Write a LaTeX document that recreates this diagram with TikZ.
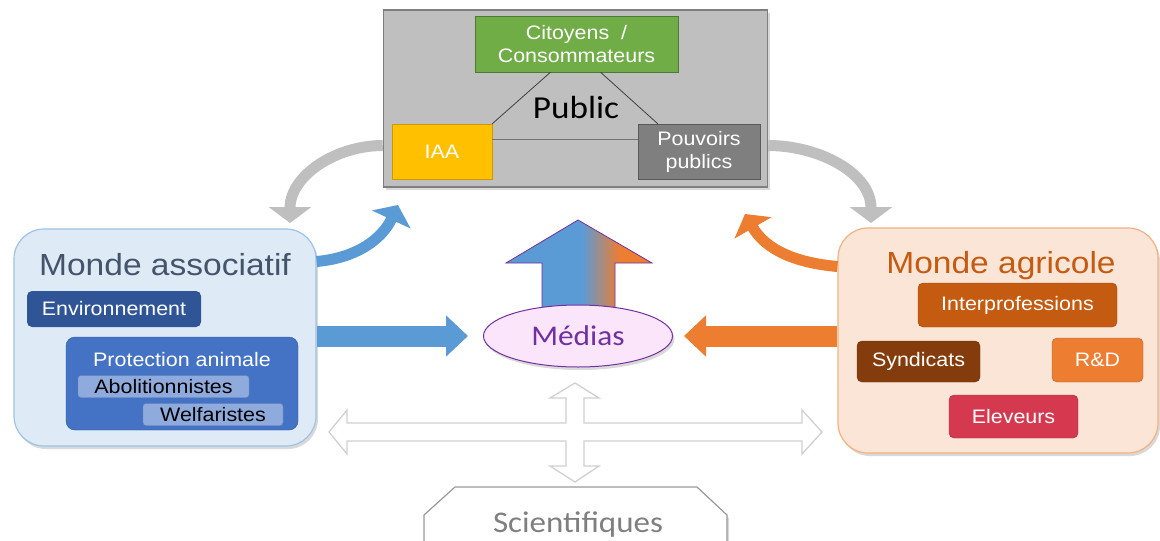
\documentclass[tikz,border=0pt]{standalone}
\usepackage{fontspec}
\setmainfont{Liberation Sans}[FakeStretch=1.1]
\newfontfamily\carlito{Carlito}[FakeStretch=1.1]
\usetikzlibrary{arrows.meta,shapes.geometric,shadows}

\definecolor{bleuA}{RGB}{91,155,213}
\definecolor{orangeA}{RGB}{237,125,49}
\definecolor{grisF}{RGB}{191,191,191}
\definecolor{grisC}{RGB}{127,127,127}
\definecolor{vertC}{RGB}{112,173,71}
\definecolor{jauneC}{RGB}{255,192,0}
\definecolor{assocF}{RGB}{222,235,247}
\definecolor{assocB}{RGB}{157,195,230}
\definecolor{assocT}{RGB}{68,84,106}
\definecolor{bleuE}{RGB}{47,85,151}
\definecolor{bleuP}{RGB}{68,114,196}
\definecolor{bleuL}{RGB}{143,170,220}
\definecolor{agriF}{RGB}{251,229,214}
\definecolor{agriB}{RGB}{244,177,131}
\definecolor{brunI}{RGB}{197,90,17}
\definecolor{brunS}{RGB}{132,60,12}
\definecolor{rougeE}{RGB}{213,57,80}
\definecolor{violetM}{RGB}{112,48,160}
\definecolor{roseM}{RGB}{251,229,251}
\definecolor{croixG}{RGB}{208,208,208}

\pgfdeclarehorizontalshading{bleuorange}{100bp}{color(0bp)=(bleuA); color(51bp)=(bleuA); color(64bp)=(orangeA); color(100bp)=(orangeA)}

\tikzset{
  ombre/.style={drop shadow={opacity=0.3,shadow xshift=2pt,shadow yshift=-3pt}},
  petit/.style={rectangle, rounded corners=5pt, inner sep=0pt, text=white, align=center, font=\fontsize{19.5}{23}\selectfont},
  carre/.style={rectangle, inner sep=0pt, text=white, align=center, font=\fontsize{19.5}{23}\selectfont},
  monde/.style={rectangle, rounded corners=30pt, line width=1.2pt, inner sep=0pt, ombre},
  titre/.style={anchor=base, font=\fontsize{30.5}{34}\selectfont},
  courbe/.style={line width=11pt, -{Triangle[width=42pt,length=16pt]}},
  plat/.style={line width=21pt, -{Triangle[width=40pt,length=22pt]}},
}

\begin{document}
\begin{tikzpicture}[x=1pt,y=-1pt]
\useasboundingbox (0,0) rectangle (1160,541);
\clip (0,0) rectangle (1160,541);

% Public
\node[rectangle, fill=grisF, draw=grisC, line width=1.5pt, minimum width=384pt, minimum height=177pt, ombre] (pub) at (575.5,98.5) {};
\node[carre, fill=vertC, draw=vertC!70!black, minimum width=203pt, minimum height=56pt] (cit) at (576.5,44) {Citoyens \ /\\Consommateurs};
\node[carre, fill=jauneC, draw=jauneC!80!black, minimum width=100pt, minimum height=55pt] (iaa) at (442,151.5) {IAA};
\node[carre, fill=grisC, draw=grisC!70!black, minimum width=122pt, minimum height=55pt] (pp) at (699,151.5) {Pouvoirs\\publics};
\node[anchor=base, font=\carlito\fontsize{32}{36}\selectfont] (public) at (576,118) {Public};
\draw[line width=0.8pt, black!75] ([xshift=-26pt]cit.south) -- (iaa.north east);
\draw[line width=0.8pt, black!75] ([xshift=24pt]cit.south) -- ([xshift=20pt]pp.north west);
\draw[line width=0.8pt, black!55] ([yshift=12pt]iaa.east) -- ([yshift=12pt]pp.west);

% Monde associatif
\node[monde, fill=assocF, draw=assocB, minimum width=302pt, minimum height=217pt] (assoc) at (165,337.5) {};
\node[titre, text=assocT] (assoctitre) at (165,275) {Monde associatif};
\node[petit, fill=bleuE, minimum width=174pt, minimum height=36pt] (env) at (114,309) {Environnement};
\node[petit, rounded corners=9pt, fill=bleuP, draw=bleuE, minimum width=232pt, minimum height=93pt] (prot) at (182,383.5) {};
\node[anchor=base, text=white, font=\fontsize{19.5}{23}\selectfont] (prottitre) at (182,366) {Protection animale};
\node[petit, rounded corners=3pt, fill=bleuL, draw=bleuL!80!black, text=black, minimum width=171pt, minimum height=22pt] (abo) at (163.5,386.5) {Abolitionnistes};
\node[petit, rounded corners=3pt, fill=bleuL, draw=bleuL!80!black, text=black, minimum width=140pt, minimum height=22pt] (wel) at (213,414.5) {Welfaristes};

% Monde agricole
\node[monde, fill=agriF, draw=agriB, minimum width=320pt, minimum height=225pt] (agri) at (998,340.5) {};
\node[titre, text=brunI] (agrititre) at (1001,273) {Monde agricole};
\node[petit, fill=brunI, draw=brunI!80!black, minimum width=199pt, minimum height=44pt] (interp) at (1017.5,305) {Interprofessions};
\node[petit, fill=brunS, draw=brunS!80!black, minimum width=123pt, minimum height=41pt] (synd) at (918.5,361.5) {Syndicats};
\node[petit, fill=orangeA, draw=orangeA!75!black, minimum width=91pt, minimum height=44pt] (rd) at (1097.5,360) {R\&D};
\node[petit, fill=rougeE, draw=rougeE!75!black, minimum width=129pt, minimum height=43pt] (elev) at (1013.5,416.5) {Eleveurs};

% fleches courbes
\coordinate (gauche) at (290,223);
\coordinate (droite) at (871,223);
\coordinate (bleuhaut) at (398,205);
\coordinate (orangehaut) at (745,214);
\draw[courbe, grisF] ([yshift=-47pt]pub.west) to[out=180,in=90] (gauche);
\draw[courbe, grisF] ([yshift=-47pt]pub.east) to[out=0,in=90] (droite);
\draw[courbe, bleuA] ([yshift=76pt]assoc.east) to[out=5,in=-115] (bleuhaut);
\draw[courbe, orangeA] ([yshift=74pt]agri.west) to[out=175,in=-60] (orangehaut);

% Medias
\draw[draw=violetM, line width=0.8pt, shade, shading=bleuorange] (542,310) -- (542,263) -- (506,263) -- (578,220) -- (652,263) -- (615,263) -- (615,310) -- cycle;
\node[ellipse, draw=violetM, fill=roseM, line width=1pt, minimum width=189pt, minimum height=62pt, inner sep=0pt, text=violetM, font=\carlito\fontsize{28.5}{30}\selectfont, ombre] (medias) at (578,336) {Médias};
\draw[plat, bleuA] (assoc.east |- medias) -- ([xshift=-15pt]medias.west);
\draw[plat, orangeA] (agri.west |- medias) -- ([xshift=11pt]medias.east);

% Scientifiques
\draw[draw=croixG, fill=white, line width=1.3pt] (329,432) -- (347,410) -- (347,423) -- (566,423) -- (566,398) -- (550,398) -- (575,383) -- (599,398) -- (584,398) -- (584,423) -- (802,423) -- (802,410) -- (822,432) -- (802,454) -- (802,441) -- (584,441) -- (584,466) -- (599,466) -- (575,482) -- (550,466) -- (566,466) -- (566,441) -- (347,441) -- (347,454) -- cycle;
\draw[draw=grisC!80, fill=white, line width=1.2pt, ombre] (424,560) -- (424,515) -- (455,487) -- (697,487) -- (727,515) -- (727,560);
\node[anchor=base, text=grisC, font=\carlito\fontsize{30}{34}\selectfont] (sci) at (578,532) {Scientifiques};
\end{tikzpicture}
\end{document}
